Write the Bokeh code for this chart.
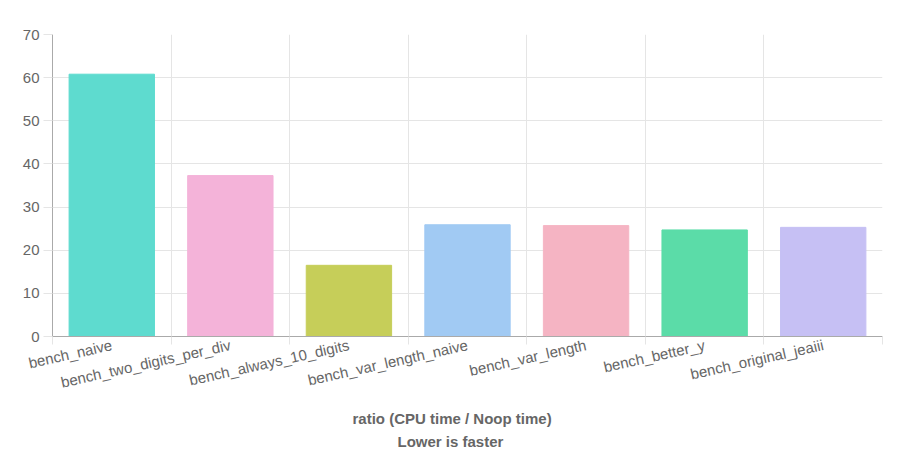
from bokeh.plotting import figure
from bokeh.models import (ColumnDataSource, Range1d, LinearAxis,
                          FixedTicker, Grid, Title)
from bokeh.embed import file_html
from bokeh.resources import INLINE

benchmarks = ["bench_naive", "bench_two_digits_per_div", "bench_always_10_digits",
              "bench_var_length_naive", "bench_var_length", "bench_better_y",
              "bench_original_jeaiii"]
ratios = [60.8, 37.3, 16.5, 25.9, 25.7, 24.7, 25.3]
colors = ["#5EDBCF", "#F4B3D9", "#C6CE59", "#A1CAF3", "#F5B4C3", "#5BDCA8", "#C6C0F4"]
y_ticks = [0, 10, 20, 30, 40, 50, 60, 70]
title_lines = ["ratio (CPU time / Noop time)", "Lower is faster"]

FONT = "Liberation Sans"
TXT = "#666666"
GRID = "#e5e5e5"
AXIS = "#aaaaaa"
FS = "15px"

n = len(benchmarks)
centers = [i + 0.5 for i in range(n)]
bounds = list(range(n + 1))
src = ColumnDataSource(dict(x=centers, y=ratios, c=colors, name=benchmarks))

p = figure(x_range=Range1d(0, n), y_range=Range1d(0, 70),
           width=894, height=452, output_backend="svg", toolbar_location=None,
           x_axis_location=None, min_border_left=52, min_border_right=12,
           min_border_top=34, min_border_bottom=116)
p.outline_line_color = None
for g in p.grid:
    if g.dimension == 0:
        g.visible = False

bticker = FixedTicker(ticks=bounds)
p.add_layout(Grid(dimension=0, ticker=bticker, grid_line_color=GRID))

bax = LinearAxis(ticker=bticker)
bax.major_label_overrides = {b: "" for b in bounds}
bax.major_label_text_font_size = "1px"
bax.major_label_standoff = 0
bax.major_tick_in = 0
bax.major_tick_out = 8
bax.major_tick_line_color = GRID
bax.minor_tick_line_color = None
bax.axis_line_color = AXIS
p.add_layout(bax, "below")

cax = LinearAxis(ticker=FixedTicker(ticks=centers))
cax.major_label_overrides = {c: b for c, b in zip(centers, benchmarks)}
cax.axis_line_color = None
cax.major_tick_line_color = None
cax.minor_tick_line_color = None
cax.major_tick_out = 0
cax.major_tick_in = 0
cax.major_label_standoff = 0
cax.major_label_orientation = 0.22
cax.major_label_text_font = FONT
cax.major_label_text_font_size = FS
cax.major_label_text_color = TXT
p.add_layout(cax, "below")

yax = p.yaxis[0]
yax.ticker = FixedTicker(ticks=y_ticks)
yax.major_label_text_font = FONT
yax.major_label_text_font_size = FS
yax.major_label_text_color = TXT
yax.major_tick_in = 0
yax.major_tick_out = 9
yax.major_tick_line_color = GRID
yax.minor_tick_line_color = None
yax.axis_line_color = AXIS
yax.major_label_standoff = 4
p.ygrid.grid_line_color = GRID

p.vbar(x="x", top="y", width=0.72, fill_color="c", line_color="c", source=src)

for t, off, so in zip(title_lines, [300, 345], [13, -6]):
    p.add_layout(Title(text=t, align="left", offset=off, text_font=FONT,
                       text_font_size=FS, text_font_style="bold",
                       text_color=TXT, standoff=so), "below")

open("out.html", "w").write(file_html(p, INLINE))
